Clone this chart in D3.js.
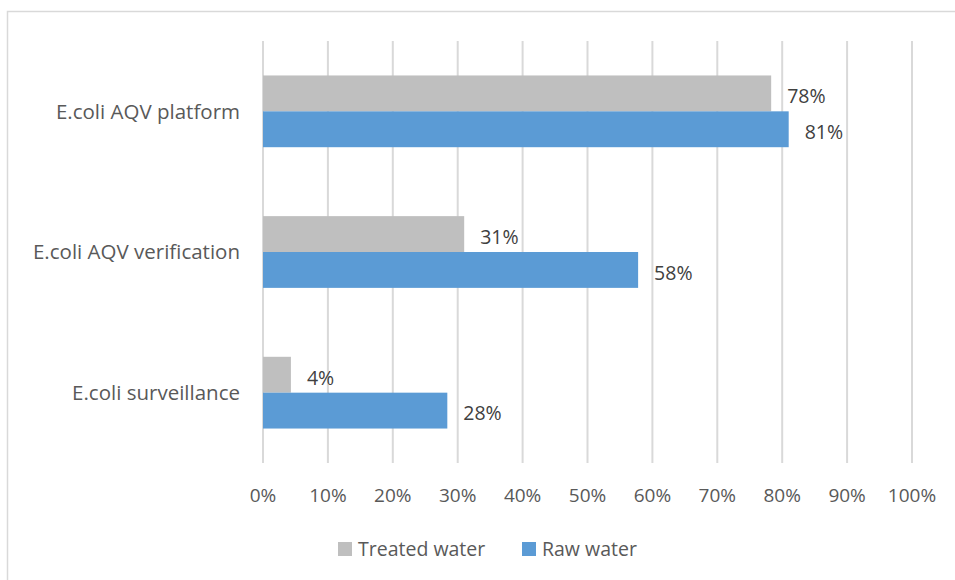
<!DOCTYPE html>
<html lang="en">
<head>
  <meta charset="UTF-8">
  <script src="https://d3js.org/d3.v7.min.js"></script>
  <title>E.coli testing</title>
  <style>
    body { margin: 0; background: #fff; }
    svg { font-family: "Open Sans", "Liberation Sans", sans-serif; }
    .grid line { stroke: #d9d9d9; stroke-width: 2px; }
    .tick-label { fill: #595959; font-size: 19px; }
    .cat-label { fill: #595959; font-size: 20.5px; }
    .val-label { fill: #404040; font-size: 19.5px; }
    .legend text { fill: #595959; font-size: 19.5px; }
  </style>
</head>
<body>
<div id="chart"></div>
<script>
  // Data
  const categories = ["E.coli AQV platform", "E.coli AQV verification", "E.coli surveillance"];
  const seriesNames = ["Treated water", "Raw water"];
  const treated = [0.783, 0.31, 0.043];
  const raw = [0.81, 0.578, 0.284];
  const valueLabels = [["78%", "31%", "4%"], ["81%", "58%", "28%"]];
  const xTicks = [0, 0.1, 0.2, 0.3, 0.4, 0.5, 0.6, 0.7, 0.8, 0.9, 1.0];
  const colors = ["#bfbfbf", "#5b9bd5"];

  const width = 955, height = 580;
  const plot = { left: 263, right: 912, top: 41, bottom: 463 };

  const svg = d3.select("#chart").append("svg")
      .attr("width", width)
      .attr("height", height);

  // outer chart border (cropped on right and bottom)
  svg.append("rect")
      .attr("x", 7.5).attr("y", 11.5)
      .attr("width", 960).attr("height", 600)
      .attr("fill", "none")
      .attr("stroke", "#d9d9d9")
      .attr("stroke-width", 1.5);

  const x = d3.scaleLinear().domain([0, 1]).range([plot.left, plot.right]);
  const y = d3.scaleBand().domain(categories).range([plot.top, plot.bottom]).paddingInner(0.49).paddingOuter(0.245);

  // gridlines
  svg.append("g").attr("class", "grid")
      .selectAll("line")
      .data(xTicks)
      .enter().append("line")
      .attr("x1", d => x(d)).attr("x2", d => x(d))
      .attr("y1", plot.top).attr("y2", plot.bottom);

  // tick labels
  svg.append("g")
      .selectAll("text")
      .data(xTicks)
      .enter().append("text")
      .attr("class", "tick-label")
      .attr("x", d => x(d))
      .attr("y", 502)
      .attr("text-anchor", "middle")
      .text(d3.format(".0%"));

  // category labels
  svg.append("g")
      .selectAll("text")
      .data(categories)
      .enter().append("text")
      .attr("class", "cat-label")
      .attr("x", plot.left - 23)
      .attr("y", d => y(d) + y.bandwidth() / 2)
      .attr("dy", "0.35em")
      .attr("text-anchor", "end")
      .text(d => d);

  const sub = d3.scaleBand().domain(seriesNames).range([0, y.bandwidth()]);
  const series = [treated, raw];

  series.forEach((vals, si) => {
    const g = svg.append("g");
    g.selectAll("rect")
        .data(vals)
        .enter().append("rect")
        .attr("x", x(0))
        .attr("y", (d, i) => y(categories[i]) + sub(seriesNames[si]))
        .attr("width", d => x(d) - x(0))
        .attr("height", sub.bandwidth())
        .attr("fill", colors[si]);

    g.selectAll("text")
        .data(vals)
        .enter().append("text")
        .attr("class", "val-label")
        .attr("x", d => x(d) + 16)
        .attr("y", (d, i) => y(categories[i]) + sub(seriesNames[si]) + sub.bandwidth() / 2 + 3)
        .attr("dy", "0.35em")
        .text((d, i) => valueLabels[si][i]);
  });

  // legend
  const legendItems = [
    { name: seriesNames[0], color: colors[0], x: 338 },
    { name: seriesNames[1], color: colors[1], x: 522 }
  ];
  const legend = svg.append("g").attr("class", "legend");
  legendItems.forEach(item => {
    legend.append("rect")
        .attr("x", item.x).attr("y", 542)
        .attr("width", 14).attr("height", 14)
        .attr("fill", item.color);
    legend.append("text")
        .attr("x", item.x + 20)
        .attr("y", 549)
        .attr("dy", "0.35em")
        .text(item.name);
  });
</script>
</body>
</html>
